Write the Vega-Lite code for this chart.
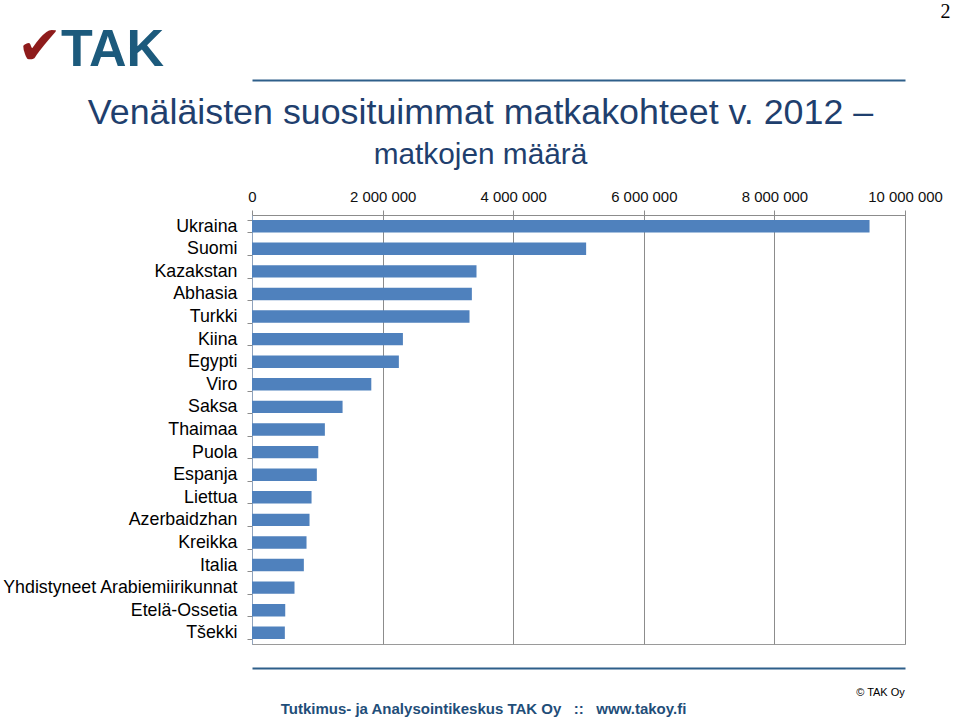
{
  "$schema": "https://vega.github.io/schema/vega-lite/v6.json",
  "width": 653,
  "height": 429,
  "autosize": {"type": "none"},
  "padding": {"left": 252, "top": 215, "right": 55, "bottom": 80},
  "background": "white",
  "config": {
    "locale": {"number": {"decimal": ",", "thousands": " ", "grouping": [3], "currency": ["", " €"]}},
    "font": "Liberation Sans",
    "view": {"stroke": "#9a9a9a", "strokeWidth": 1}
  },
  "title": {
    "text": "Venäläisten suosituimmat matkakohteet v. 2012 –",
    "subtitle": "matkojen määrä",
    "anchor": "middle",
    "frame": "group",
    "dx": -98,
    "dy": 190,
    "fontSize": 35.8,
    "font": "Liberation Sans",
    "fontWeight": "normal",
    "color": "#1F3F6E",
    "subtitleFontSize": 29.8,
    "subtitleFont": "Liberation Sans",
    "subtitleColor": "#1F3F6E",
    "subtitlePadding": 8,
    "offset": 20
  },
  "data": {
    "values": [
      {"maa": "Ukraina", "matkat": 9457000},
      {"maa": "Suomi", "matkat": 5117000},
      {"maa": "Kazakstan", "matkat": 3438000},
      {"maa": "Abhasia", "matkat": 3367000},
      {"maa": "Turkki", "matkat": 3331000},
      {"maa": "Kiina", "matkat": 2311000},
      {"maa": "Egypti", "matkat": 2249000},
      {"maa": "Viro", "matkat": 1827000},
      {"maa": "Saksa", "matkat": 1387000},
      {"maa": "Thaimaa", "matkat": 1116000},
      {"maa": "Puola", "matkat": 1015000},
      {"maa": "Espanja", "matkat": 993000},
      {"maa": "Liettua", "matkat": 912000},
      {"maa": "Azerbaidzhan", "matkat": 881000},
      {"maa": "Kreikka", "matkat": 835000},
      {"maa": "Italia", "matkat": 794000},
      {"maa": "Yhdistyneet Arabiemiirikunnat", "matkat": 651000},
      {"maa": "Etelä-Ossetia", "matkat": 509000},
      {"maa": "Tšekki", "matkat": 503000}
    ]
  },
  "resolve": {"axis": {"x": "independent", "y": "independent"}},
  "layer": [
    {
      "mark": {"type": "bar", "color": "#4F81BD"},
      "encoding": {
        "y": {
          "field": "maa",
          "type": "nominal",
          "sort": null,
          "scale": {"paddingInner": 0.45, "paddingOuter": 0.22},
          "axis": {
            "title": "✔",
            "titleFont": "DejaVu Sans",
            "titleFontSize": 54,
            "titleFontWeight": "normal",
            "titleColor": "#8E1B1B",
            "titleAngle": 0,
            "titleX": -213,
            "titleY": -152,
            "titleAlign": "center",
            "titleBaseline": "alphabetic",
            "orient": "left",
            "tickBand": "extent",
            "tickSize": 5,
            "tickColor": "#8c8c8c",
            "domainColor": "#8fa3bd",
            "labelPadding": 10,
            "labelFontSize": 17.8,
            "labelColor": "#000000",
            "labelFont": "Liberation Sans",
            "labelLimit": 300
          }
        },
        "x": {
          "field": "matkat",
          "type": "quantitative",
          "scale": {"domain": [0, 10000000], "nice": false},
          "axis": {
            "orient": "top",
            "title": null,
            "values": [0, 2000000, 4000000, 6000000, 8000000, 10000000],
            "format": ",d",
            "labelFlush": false,
            "grid": true,
            "gridColor": "#8c8c8c",
            "gridOpacity": 1,
            "tickColor": "#8c8c8c",
            "tickSize": 5,
            "domainColor": "#8c8c8c",
            "labelPadding": 6,
            "labelFontSize": 14.9,
            "labelColor": "#111111",
            "labelFont": "Liberation Sans"
          }
        }
      }
    },
    {
      "mark": {"type": "bar", "opacity": 0},
      "encoding": {
        "y": {
          "field": "maa",
          "type": "nominal",
          "sort": null,
          "axis": {
            "orient": "right",
            "labels": false,
            "ticks": false,
            "domain": false,
            "grid": false,
            "title": "2",
            "titleFont": "Liberation Serif",
            "titleFontSize": 20,
            "titleFontWeight": "normal",
            "titleColor": "#000000",
            "titleAngle": 0,
            "titleX": 40,
            "titleY": -198,
            "titleAlign": "center",
            "titleBaseline": "alphabetic"
          }
        },
        "x": {
          "field": "matkat",
          "type": "quantitative",
          "axis": {
            "orient": "bottom",
            "labels": false,
            "ticks": false,
            "grid": false,
            "offset": 24,
            "domainColor": "#2E5F8A",
            "domainWidth": 2,
            "title": "Tutkimus- ja Analysointikeskus TAK Oy\u00a0\u00a0\u00a0::\u00a0\u00a0\u00a0www.takoy.fi",
            "titleFont": "Liberation Sans",
            "titleFontSize": 15,
            "titleFontWeight": "bold",
            "titleColor": "#1F4E79",
            "titleX": 231,
            "titleY": 45,
            "titleAlign": "center",
            "titleBaseline": "alphabetic"
          }
        }
      }
    },
    {
      "mark": {"type": "bar", "opacity": 0},
      "encoding": {
        "y": {
          "field": "maa",
          "type": "nominal",
          "sort": null,
          "axis": {
            "orient": "right",
            "labels": false,
            "ticks": false,
            "domain": false,
            "grid": false,
            "title": "© TAK Oy",
            "titleFont": "Liberation Sans",
            "titleFontSize": 11,
            "titleFontWeight": "normal",
            "titleColor": "#000000",
            "titleAngle": 0,
            "titleX": -25,
            "titleY": 480,
            "titleAlign": "center",
            "titleBaseline": "alphabetic"
          }
        },
        "x": {
          "field": "matkat",
          "type": "quantitative",
          "axis": {
            "orient": "top",
            "labels": false,
            "ticks": false,
            "grid": false,
            "offset": 135,
            "domainColor": "#2E5F8A",
            "domainWidth": 2,
            "title": "TAK",
            "titleFont": "Liberation Sans",
            "titleFontSize": 52,
            "titleFontWeight": "bold",
            "titleColor": "#1C5A7C",
            "titleX": -140,
            "titleY": -15,
            "titleAlign": "center",
            "titleBaseline": "alphabetic"
          }
        }
      }
    }
  ]
}
